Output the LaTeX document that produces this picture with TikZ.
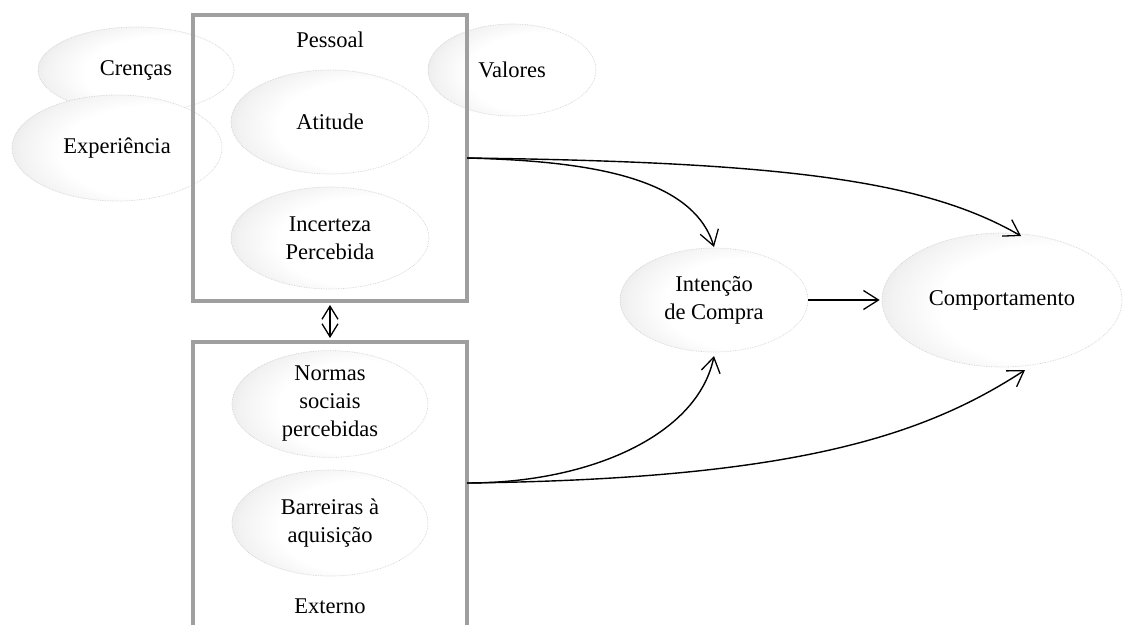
\documentclass[tikz,border=0pt]{standalone}
\usepackage{fontspec}
\setmainfont{Liberation Serif}
\usetikzlibrary{shapes.geometric,arrows.meta}

% soft bevelled fill for the construct ellipses
\pgfdeclareradialshading{lens}{\pgfpoint{14bp}{-3bp}}{%
  color(0bp)=(white); color(22bp)=(white); color(30bp)=(black!5); color(38bp)=(black!14); color(46bp)=(black!24); color(60bp)=(black!30)}

\tikzset{
  construct/.style={ellipse, inner sep=0pt, shade, shading=lens,
    draw=gray!35, densely dotted, line width=0.7pt, align=center,
    font=\fontsize{22.5}{28}\selectfont},
  frame/.style={draw=gray!75, line width=4pt, rectangle, inner sep=0pt},
  caption/.style={font=\fontsize{22.5}{28}\selectfont},
  barb/.tip={Straight Barb[length=15pt,width=19pt,line width=1.3pt]},
  smallbarb/.tip={Straight Barb[length=13pt,width=16pt,line width=1.3pt]},
  link/.style={line width=1.4pt, -barb},
  twoway/.style={line width=1.4pt, smallbarb-smallbarb}
}

\begin{document}
\begin{tikzpicture}[x=1pt,y=1pt]
  \useasboundingbox (0,0) rectangle (1147,-624);
  \clip (0,0) rectangle (1147,-624);

  % antecedent beliefs around the personal frame
  \node[construct, minimum width=196pt, minimum height=86pt] (crencas) at (136,-70) {Crenças};
  \node[construct, minimum width=168pt, minimum height=92pt] (valores) at (512,-70) {Valores};
  \node[construct, minimum width=210pt, minimum height=106pt] (exper) at (117,-148) {Experiência};

  % personal factors
  \node[construct, minimum width=198pt, minimum height=104pt] (atitude) at (330,-122) {Atitude};
  \node[construct, minimum width=198pt, minimum height=102pt] (incerteza) at (330,-238) {Incerteza\\Percebida};

  % external factors
  \node[construct, minimum width=196pt, minimum height=104pt] (normas) at (330,-404) {Normas\\sociais\\percebidas};
  \node[construct, minimum width=196pt, minimum height=106pt] (barreiras) at (330,-523) {Barreiras à\\aquisição};

  % outcomes
  \node[construct, minimum width=188pt, minimum height=104pt] (intencao) at (714,-300) {Intenção\\de Compra};
  \node[construct, minimum width=240pt, minimum height=134pt] (comport) at (1002,-300) {Comportamento};

  % grouping frames
  \node[frame, minimum width=274pt, minimum height=286pt] (pessoal) at (330,-158) {};
  \node[frame, minimum width=274pt, minimum height=320pt] (externo) at (330,-502) {};
  \node[caption] (lblp) at (330,-40) {Pessoal};
  \node[caption] (lble) at (330,-606) {Externo};

  % connector origins on the frames and arrival points on the outcomes
  \coordinate (pout) at (467,-158);
  \coordinate (eout) at (467,-483);
  \coordinate (itop) at (714,-247);
  \coordinate (ibot) at (714,-356);
  \coordinate (ctop) at (1021,-236);
  \coordinate (cbot) at (1025,-370);

  % relations
  \draw[twoway] ([yshift=-2pt]pessoal.south) -- ([yshift=2pt]externo.north);
  \draw[link] (pout) .. controls +(115,-3) and +(-22,72) .. (itop);
  \draw[link] (pout) .. controls +(320,-4) and +(-95,55) .. (ctop);
  \draw[link] (eout) .. controls +(125,0) and +(-16,-78) .. (ibot);
  \draw[link] (eout) .. controls +(330,4) and +(-100,-65) .. (cbot);
  \draw[link] (intencao.east) -- ([xshift=-2pt]comport.west);
\end{tikzpicture}
\end{document}
